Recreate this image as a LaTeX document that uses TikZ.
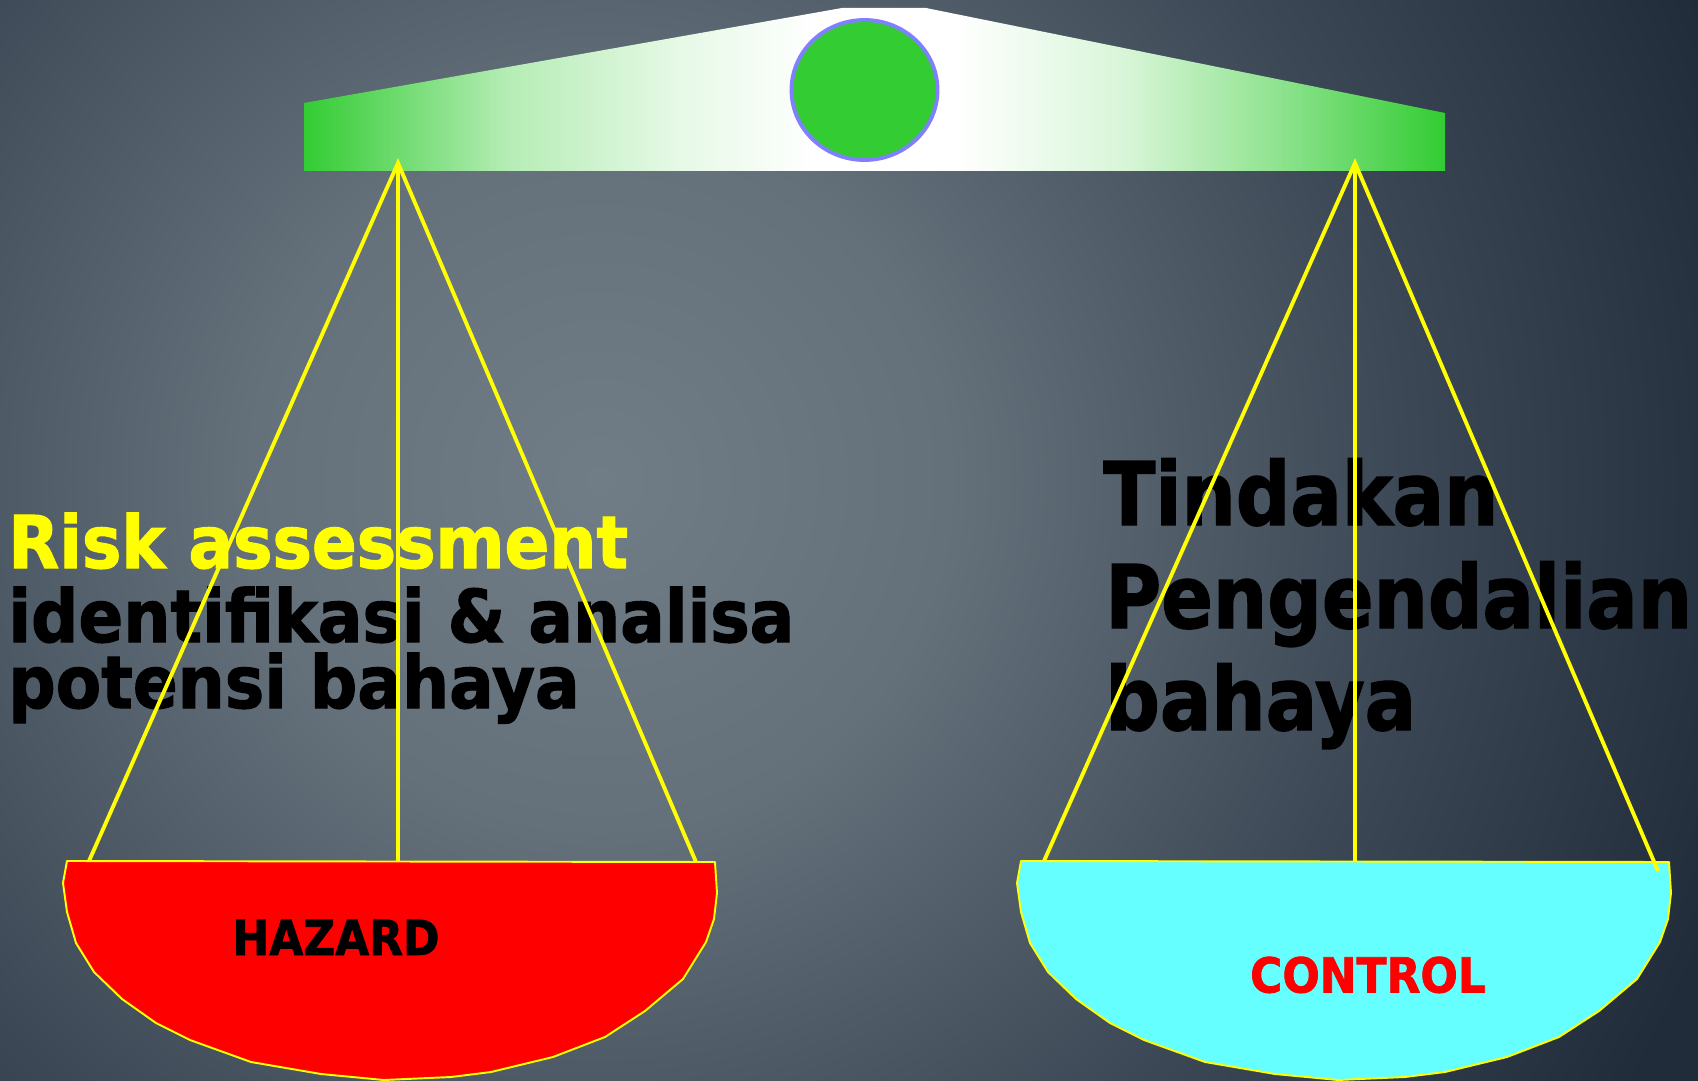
\documentclass[tikz,border=0pt]{standalone}
\usepackage{fontspec}
\newfontfamily\leftfont{DejaVu Sans}[FakeStretch=0.91, BoldFeatures={FakeBold=1.5}]
\newfontfamily\rightfont{DejaVu Sans}[FakeStretch=0.87, BoldFeatures={FakeBold=1.5}]
\usepackage{tikz}
\usetikzlibrary{positioning}
\definecolor{bgin}{RGB}{112,124,134}
\definecolor{bgmida}{RGB}{100,112,122}
\definecolor{bgmidb}{RGB}{60,72,85}
\definecolor{bgout}{RGB}{32,44,58}
\definecolor{beamgreen}{RGB}{51,204,51}
\definecolor{knobblue}{RGB}{128,128,255}
\definecolor{hazardred}{RGB}{255,0,0}
\definecolor{controlcyan}{RGB}{102,255,255}
\definecolor{stringyellow}{RGB}{255,255,0}
\pgfdeclareradialshading{slidebg}{\pgfpoint{0bp}{0bp}}{color(0bp)=(bgin); color(6.7bp)=(bgmida); color(15.4bp)=(bgmidb); color(23bp)=(bgout); color(50bp)=(bgout)}
\pgfdeclarehorizontalshading{beamfade}{100bp}{color(0bp)=(beamgreen); color(25bp)=(beamgreen); color(34bp)=(beamgreen!36!white); color(41.5bp)=(beamgreen!12!white); color(47.5bp)=(white); color(53.5bp)=(white); color(61bp)=(beamgreen!19!white); color(67.5bp)=(beamgreen!54!white); color(75bp)=(beamgreen); color(100bp)=(beamgreen)}
% outline of one scale pan
\newcommand{\panshape}{(67,861) -- (63,883) -- (67,912) -- (76,943) -- (94,972) -- (122,999) -- (156,1023) -- (190,1040) -- (251,1062) -- (321,1074) -- (384,1080) -- (451,1077) -- (491,1072) -- (553,1057) -- (605,1037) -- (645,1011) -- (683,979) -- (706,942) -- (714,919) -- (717,893) -- (715,862) -- cycle}

\begin{document}
\begin{tikzpicture}[x=0.02cm, y=-0.02cm,
  pan/.style={draw=stringyellow, line width=1.1pt, line join=round},
  rope/.style={draw=stringyellow, line width=2.2pt},
  bigtext/.style={anchor=base west, inner sep=0pt, font=\leftfont\bfseries\fontsize{41.4}{41.4}\selectfont},
  rtext/.style={anchor=base west, inner sep=0pt, font=\rightfont\bfseries\fontsize{49.9}{49.9}\selectfont},
  panlabel/.style={anchor=base, inner sep=0pt, font=\leftfont\bfseries\fontsize{27.5}{27.5}\selectfont}
]
\useasboundingbox (0,0) rectangle (1698,1081);

% Background
\begin{scope}
\clip (0,0) rectangle (1698,1081);
\shade[shading=slidebg] (600,480) circle (1300);
\end{scope}

% Beam and pivot
\shade[shading=beamfade]
  (304,103) -- (842,8) -- (926,8) -- (1445,113) -- (1445,171) -- (304,171) -- cycle;
\filldraw[fill=beamgreen, draw=knobblue, line width=2.2pt] (864.5,90) ellipse (73 and 70);

% Pans
\filldraw[pan, fill=hazardred] \panshape;
\filldraw[pan, fill=controlcyan, shift={(954,0)}] \panshape;
\node[panlabel, text=black] (hazard) at (336,955) {HAZARD};
\node[panlabel, text=hazardred] (control) at (1368,992.5) {CONTROL};

% Left text
\node[bigtext, text=stringyellow] (risk) at (8,568) {Risk assessment};
\node[bigtext, text=black] (ident) at (8,642) {identifikasi \& analisa};
\node[bigtext, text=black] (potensi) at (8,708) {potensi bahaya};

% Right text
\node[rtext, text=black] (tindakan) at (1103,525) {Tindakan};
\node[rtext, text=black] (pengendalian) at (1105,628) {Pengendalian};
\node[rtext, text=black] (bahaya) at (1105,730) {bahaya};

% Strings
\coordinate (lapex) at (398,163);
\coordinate (lleft) at (89,861);
\coordinate (lmid) at (398,861);
\coordinate (lright) at (696,862);
\coordinate (rapex) at (1355,163);
\coordinate (rleft) at (1044,861);
\coordinate (rmid) at (1355,862);
\coordinate (rright) at (1658,871);
\draw[rope] (lleft) -- (lapex) -- (lright);
\draw[rope] (lapex) -- (lmid);
\draw[rope] (rleft) -- (rapex) -- (rright);
\draw[rope] (rapex) -- (rmid);
\end{tikzpicture}
\end{document}
